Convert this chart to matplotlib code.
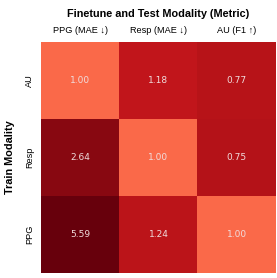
import matplotlib
matplotlib.use("Agg")
import matplotlib.pyplot as plt
import matplotlib.colors as mcolors
import numpy as np

# relative performance (normalised to in-modality result)
train_mods = ["AU", "Resp", "PPG"]
test_labels = ["PPG (MAE \u2193)", "Resp (MAE \u2193)", "AU (F1 \u2191)"]
values = np.array([
    [1.00, 1.18, 0.77],
    [2.64, 1.00, 0.75],
    [5.59, 1.24, 1.00],
])
# higher-is-better metrics get inverted for the colour scale
higher_better = np.array([False, False, True])

badness = np.where(higher_better, 1.0 / values, values)

plt.rcParams['font.family'] = ['Liberation Sans', 'DejaVu Sans']

fig = plt.figure(figsize=(2.77, 2.78), dpi=100)
ax = fig.add_axes([41 / 277, 5 / 278, 235 / 277, 231 / 278])

# upper half of Reds, log-ish stretch above 1
cmap = mcolors.ListedColormap(plt.cm.Reds(np.linspace(0.5, 1.0, 256)))
eps = 0.003
norm = mcolors.FuncNorm((lambda x: np.log(np.maximum(x - 1, 0) + eps),
                         lambda y: np.exp(y) + 1 - eps),
                        vmin=1.0, vmax=badness.max())
ax.imshow(badness, cmap=cmap, norm=norm, aspect='auto')

for i in range(len(train_mods)):
    for j in range(len(test_labels)):
        ax.text(j, i, f"{values[i, j]:.2f}", ha='center', va='center',
                color='#f0dcdc', fontsize=6.5, family='DejaVu Sans')

ax.set_xticks(range(len(test_labels)))
ax.set_xticklabels(test_labels, fontsize=6.6)
ax.set_yticks(range(len(train_mods)))
ax.set_yticklabels(train_mods, fontsize=6.6, rotation=90, va='center')
ax.xaxis.tick_top()
ax.tick_params(length=0, pad=5)
for s in ax.spines.values():
    s.set_visible(False)

ax.set_ylabel("Train Modality", fontsize=7.8, fontweight='bold', labelpad=7)
ax.set_title("Finetune and Test Modality (Metric)", fontsize=7.8,
             fontweight='bold', pad=18)

fig.savefig("out.png", dpi=100)
